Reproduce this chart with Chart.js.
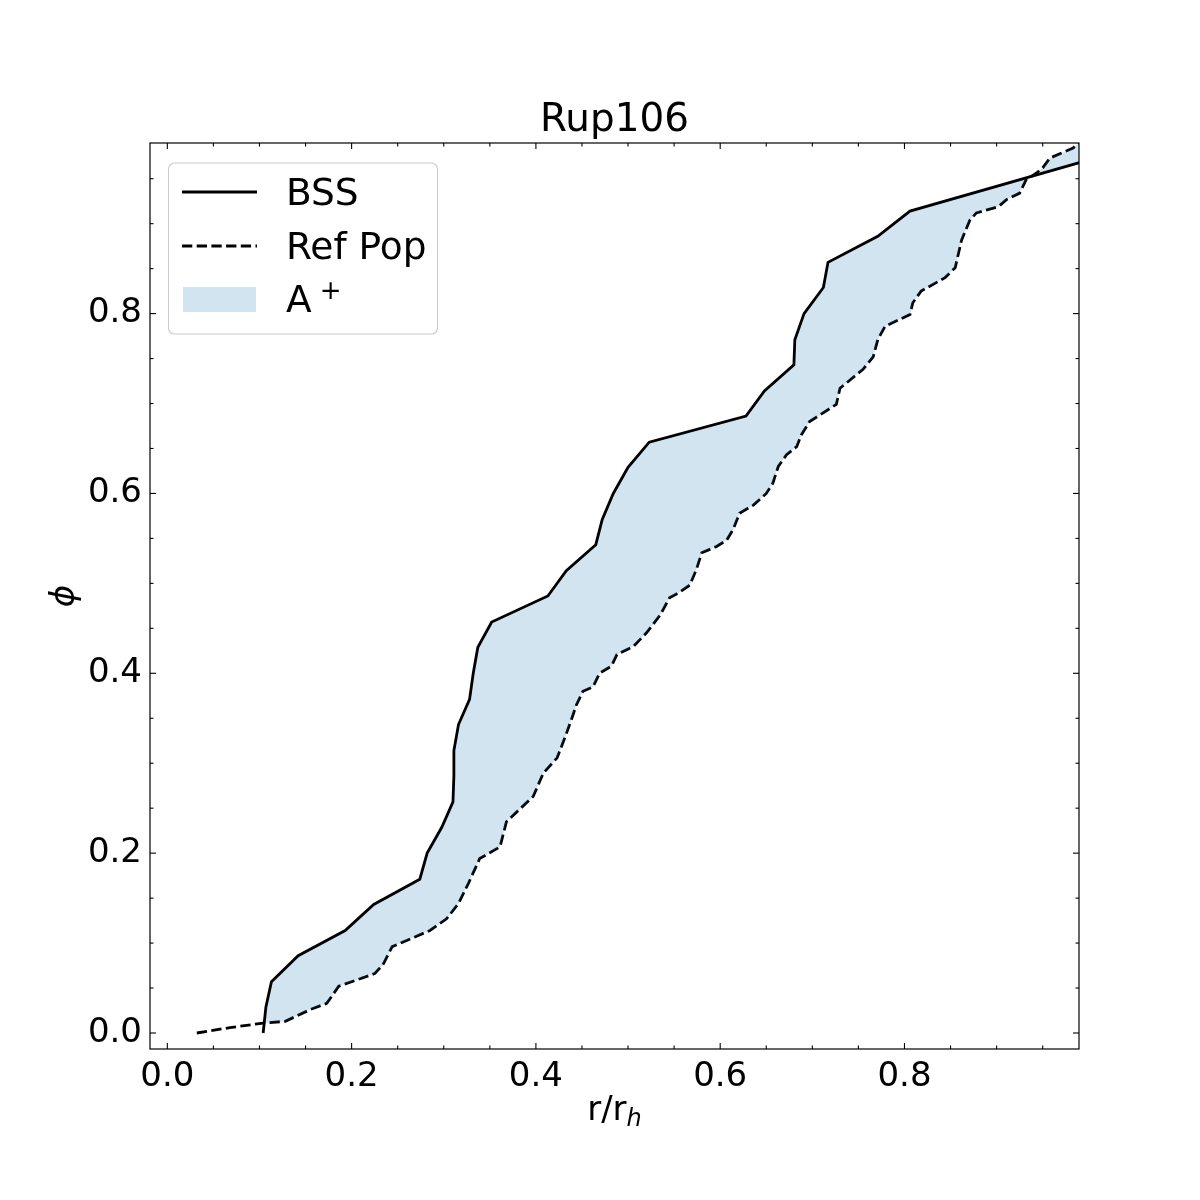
<!DOCTYPE html>
<html><head><meta charset="utf-8">
<script src="https://cdn.jsdelivr.net/npm/chart.js@4/dist/chart.umd.min.js"></script>
<style>html,body{margin:0;padding:0;background:#fff}canvas{display:block}</style>
</head><body>
<canvas id="c" width="1200" height="1200"></canvas>
<script>
const titleText = 'Rup106';
const seriesNames = ['BSS', 'Ref Pop'];
const fillName = 'A';
const fillSup = '+';
const xTitle = 'r/r';
const xTitleSub = 'h';
const yTitle = '\u03D5';

const bssR   = [0.104, 0.107, 0.113, 0.142, 0.193, 0.224, 0.274, 0.282, 0.298, 0.310, 0.311, 0.311, 0.316, 0.328, 0.332, 0.337, 0.352, 0.413, 0.433, 0.465, 0.472, 0.484, 0.500, 0.523, 0.628, 0.648, 0.680, 0.681, 0.691, 0.712, 0.717, 0.771, 0.806, 1.100];
const bssPhi = [0.000, 0.029, 0.057, 0.086, 0.114, 0.143, 0.171, 0.200, 0.229, 0.257, 0.286, 0.314, 0.343, 0.371, 0.400, 0.429, 0.457, 0.486, 0.514, 0.543, 0.571, 0.600, 0.629, 0.657, 0.686, 0.714, 0.743, 0.771, 0.800, 0.829, 0.857, 0.886, 0.914, 1.000];

const refR   = [0.032, 0.068, 0.104, 0.128, 0.155, 0.173, 0.186, 0.225, 0.234, 0.244, 0.285, 0.303, 0.316, 0.327, 0.339, 0.361, 0.368, 0.397, 0.408, 0.423, 0.432, 0.439, 0.444, 0.451, 0.462, 0.469, 0.482, 0.488, 0.506, 0.520, 0.535, 0.545, 0.554, 0.567, 0.574, 0.580, 0.596, 0.607, 0.614, 0.621, 0.636, 0.650, 0.657, 0.663, 0.672, 0.683, 0.688, 0.697, 0.726, 0.730, 0.755, 0.766, 0.771, 0.779, 0.806, 0.809, 0.818, 0.844, 0.855, 0.862, 0.871, 0.878, 0.902, 0.911, 0.925, 0.932, 0.943, 0.950, 0.958, 0.983, 1.000];
const refPhi = [0.000, 0.006, 0.011, 0.013, 0.026, 0.033, 0.052, 0.066, 0.076, 0.096, 0.114, 0.127, 0.144, 0.167, 0.194, 0.207, 0.235, 0.263, 0.289, 0.306, 0.330, 0.350, 0.365, 0.380, 0.385, 0.400, 0.408, 0.421, 0.430, 0.445, 0.465, 0.484, 0.489, 0.498, 0.515, 0.534, 0.541, 0.548, 0.560, 0.578, 0.587, 0.600, 0.611, 0.630, 0.643, 0.652, 0.665, 0.680, 0.699, 0.717, 0.738, 0.752, 0.771, 0.786, 0.799, 0.812, 0.825, 0.840, 0.851, 0.882, 0.904, 0.912, 0.919, 0.927, 0.934, 0.949, 0.956, 0.962, 0.973, 0.984, 1.000];

const majorTicks = [0.0, 0.2, 0.4, 0.6, 0.8];
const minorTicks = [0.05, 0.1, 0.15, 0.25, 0.3, 0.35, 0.45, 0.5, 0.55, 0.65, 0.7, 0.75, 0.85, 0.9, 0.95];
const xLimits = [-0.0188, 0.9894];
const yLimits = [-0.0178, 0.9897];

const FONT = "'DejaVu Sans', sans-serif";
const TICK_FS = 34;
const LABEL_FS = 34;
const LEGEND_FS = 37.5;
const TITLE_FS = 38.9;
const LW = 2.8;
const DASH = [10.3, 4.4];
const fillColor = 'rgba(31,119,180,0.2)';

const toPoints = (xs, ys) => xs.map((v, i) => ({x: v, y: ys[i]}));

const decor = {
  id: 'decor',
  afterDraw(chart) {
    const {ctx, chartArea: a, scales: {x, y}} = chart;
    ctx.save();
    // frame
    ctx.strokeStyle = '#000';
    ctx.lineWidth = 1.2;
    ctx.strokeRect(a.left, a.top, a.right - a.left, a.bottom - a.top);
    // inward ticks on all four sides
    const seg = (x1, y1, x2, y2) => { ctx.beginPath(); ctx.moveTo(x1, y1); ctx.lineTo(x2, y2); ctx.stroke(); };
    ctx.lineWidth = 1.1;
    const drawTicks = (list, len) => list.forEach(v => {
      const px = x.getPixelForValue(v);
      seg(px, a.bottom, px, a.bottom - len);
      seg(px, a.top, px, a.top + len);
      const py = y.getPixelForValue(v);
      seg(a.left, py, a.left + len, py);
      seg(a.right, py, a.right - len, py);
    });
    drawTicks(majorTicks, 6);
    drawTicks(minorTicks, 3.5);

    // axis titles
    ctx.fillStyle = '#000';
    ctx.textBaseline = 'alphabetic';
    const subFS = Math.round(LABEL_FS * 0.7);
    ctx.font = LABEL_FS + 'px ' + FONT;
    const w1 = ctx.measureText(xTitle).width;
    ctx.font = 'italic ' + subFS + 'px ' + FONT;
    const w2 = ctx.measureText(xTitleSub).width;
    const cx = (a.left + a.right) / 2;
    const sx = cx - (w1 + w2) / 2;
    ctx.font = LABEL_FS + 'px ' + FONT;
    ctx.textAlign = 'left';
    ctx.fillText(xTitle, sx, 1120);
    ctx.font = 'italic ' + subFS + 'px ' + FONT;
    ctx.fillText(xTitleSub, sx + w1, 1126);

    ctx.save();
    ctx.translate(74, (a.top + a.bottom) / 2);
    ctx.rotate(-Math.PI / 2);
    ctx.font = 'italic ' + LABEL_FS + 'px ' + FONT;
    ctx.textAlign = 'center';
    ctx.fillText(yTitle, 0, 0);
    ctx.restore();

    // legend
    const lx = 168.5, ly = 163, lw = 269, lh = 171, r = 6;
    ctx.beginPath();
    ctx.moveTo(lx + r, ly);
    ctx.arcTo(lx + lw, ly, lx + lw, ly + lh, r);
    ctx.arcTo(lx + lw, ly + lh, lx, ly + lh, r);
    ctx.arcTo(lx, ly + lh, lx, ly, r);
    ctx.arcTo(lx, ly, lx + lw, ly, r);
    ctx.closePath();
    ctx.fillStyle = 'rgba(255,255,255,0.8)';
    ctx.fill();
    ctx.strokeStyle = '#cccccc';
    ctx.lineWidth = 1.1;
    ctx.stroke();

    ctx.strokeStyle = '#000';
    ctx.lineWidth = LW;
    ctx.setLineDash([]);
    seg(182, 192, 257, 192);
    ctx.setLineDash(DASH);
    seg(182, 246, 257, 246);
    ctx.setLineDash([]);
    ctx.fillStyle = fillColor;
    ctx.fillRect(183, 287, 73, 25);

    ctx.fillStyle = '#000';
    ctx.font = LEGEND_FS + 'px ' + FONT;
    ctx.textAlign = 'left';
    ctx.fillText(seriesNames[0], 286, 205);
    ctx.fillText(seriesNames[1], 286, 258.5);
    ctx.fillText(fillName, 286, 312);
    const aw = ctx.measureText(fillName).width;
    ctx.font = Math.round(LEGEND_FS * 0.7) + 'px ' + FONT;
    ctx.fillText(fillSup, 286 + aw + 8, 299);
    ctx.restore();
  }
};

new Chart(document.getElementById('c'), {
  type: 'line',
  data: {
    datasets: [
      {
        label: seriesNames[0],
        data: toPoints(bssR, bssPhi),
        borderColor: '#000',
        borderWidth: LW,
        pointRadius: 0,
        tension: 0,
        fill: {target: 1, above: fillColor, below: fillColor},
        backgroundColor: fillColor,
        clip: 0
      },
      {
        label: seriesNames[1],
        data: toPoints(refR, refPhi),
        borderColor: '#000',
        borderWidth: LW,
        borderDash: DASH,
        pointRadius: 0,
        tension: 0,
        fill: false,
        clip: 0
      }
    ]
  },
  options: {
    responsive: false,
    animation: false,
    devicePixelRatio: 1,
    layout: {padding: {left: 0, right: 121, top: 101.2, bottom: 0}},
    plugins: {
      legend: {display: false},
      tooltip: {enabled: false},
      title: {
        display: true,
        fullSize: false,
        text: titleText,
        color: '#000',
        font: {family: FONT, size: TITLE_FS, weight: 'normal', lineHeight: 1.0},
        padding: {top: 0, bottom: 2.9}
      }
    },
    scales: {
      x: {
        type: 'linear',
        min: xLimits[0], max: xLimits[1],
        afterBuildTicks: s => { s.ticks = majorTicks.map(v => ({value: v})); },
        afterFit: s => { s.height = 151; },
        grid: {display: false, drawTicks: false},
        border: {display: false},
        ticks: {color: '#000', font: {family: FONT, size: TICK_FS}, padding: 8, maxRotation: 0,
                callback: v => v.toFixed(1)}
      },
      y: {
        type: 'linear',
        min: yLimits[0], max: yLimits[1],
        afterBuildTicks: s => { s.ticks = majorTicks.map(v => ({value: v})); },
        afterFit: s => { s.width = 150; },
        grid: {display: false, drawTicks: false},
        border: {display: false},
        ticks: {color: '#000', font: {family: FONT, size: TICK_FS}, padding: 8,
                callback: v => v.toFixed(1)}
      }
    }
  },
  plugins: [decor]
});
</script>
</body></html>
